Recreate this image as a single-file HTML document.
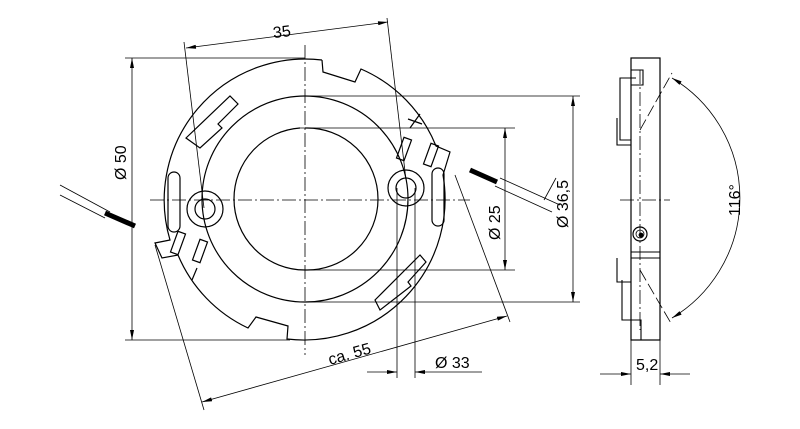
<!DOCTYPE html>
<html><head><meta charset="utf-8"><style>body{margin:0;background:#fff}svg{display:block}text{font-family:"Liberation Sans",sans-serif;fill:#000}</style></head>
<body>
<svg width="800" height="429" viewBox="0 0 800 429" xmlns="http://www.w3.org/2000/svg">
<defs><marker id="a" viewBox="0 0 10 4" refX="10" refY="2" markerWidth="12" markerHeight="4" orient="auto-start-reverse" markerUnits="userSpaceOnUse"><path d="M0,0L10,2L0,4z" fill="#000"/></marker></defs>
<g fill="none" stroke="#000" stroke-width="1.2">
<!-- outer ring with notches -->
<path d="M322,60 L323,72 L355,82 L361,69 A141,141 0 0 1 436,146 L450,152 L443,175 A141,141 0 0 1 287,339 L288,326 L256,317 L248,328 A141,141 0 0 1 178,255 L162,258 L155,243 L170,240 A141,141 0 0 1 322,60"/>
<circle cx="305" cy="199" r="103"/>
<path d="M300,128 A71,71 0 0 0 234,199 A71,71 0 0 0 305,270 A71,71 0 0 0 378,199 A71,71 0 0 0 305,128"/>
<circle cx="205" cy="209" r="18"/><circle cx="205" cy="209" r="10"/>
<circle cx="406" cy="188" r="18"/><circle cx="406" cy="188" r="10"/>
<!-- slots -->
<rect x="168" y="172" width="12" height="60" rx="6"/>
<rect x="432" y="168" width="12" height="58" rx="6"/>
<path d="M186,138 L230,96 L238,104 L218,124 L222,128 L200,148z"/>
<path d="M375,300 L420,255 L426,262 L408,282 L411,286 L380,310z"/>
<rect x="400" y="138" width="8" height="22" transform="rotate(20 404 149)"/>
<rect x="427" y="144" width="8" height="22" transform="rotate(20 431 155)"/>
<rect x="174" y="232" width="8" height="22" transform="rotate(20 178 243)"/>
<rect x="196" y="240" width="8" height="22" transform="rotate(20 200 251)"/>
<path d="M197,268 L192,280"/>
</g>
<!-- centre lines -->
<g stroke="#000" stroke-width="0.8" fill="none" stroke-dasharray="14,3,2,3">
<line x1="150" y1="200" x2="470" y2="200"/><line x1="305" y1="45" x2="305" y2="355"/>
<line x1="620" y1="200" x2="670" y2="200"/><line x1="640" y1="70" x2="640" y2="330"/>
</g>
<!-- dimension lines -->
<g stroke="#000" stroke-width="0.8" fill="none">
<line x1="184" y1="42" x2="204" y2="208"/><line x1="387" y1="18" x2="406" y2="180"/>
<line x1="186" y1="48" x2="388" y2="22" marker-start="url(#a)" marker-end="url(#a)"/>
<line x1="125" y1="58" x2="305" y2="58"/><line x1="125" y1="340" x2="290" y2="340"/>
<line x1="132" y1="58" x2="132" y2="340" marker-start="url(#a)" marker-end="url(#a)"/>
<line x1="300" y1="128" x2="515" y2="128"/><line x1="305" y1="270" x2="515" y2="270"/>
<line x1="505" y1="128" x2="505" y2="270" marker-start="url(#a)" marker-end="url(#a)"/>
<line x1="305" y1="96" x2="580" y2="96"/><line x1="305" y1="302" x2="580" y2="302"/>
<line x1="573" y1="96" x2="573" y2="302" marker-start="url(#a)" marker-end="url(#a)"/>
<line x1="155" y1="245" x2="204" y2="410"/><line x1="455" y1="175" x2="510" y2="322"/>
<line x1="202" y1="402" x2="507" y2="316" marker-start="url(#a)" marker-end="url(#a)"/>
<line x1="397" y1="188" x2="397" y2="378"/><line x1="415" y1="188" x2="415" y2="378"/>
<line x1="367" y1="372" x2="397" y2="372" marker-end="url(#a)"/><line x1="482" y1="372" x2="415" y2="372" marker-end="url(#a)"/>
<line x1="60" y1="185" x2="110" y2="212"/><line x1="60" y1="195" x2="105" y2="218"/>
<line x1="500" y1="178" x2="560" y2="205"/><line x1="495" y1="186" x2="552" y2="212"/>
<line x1="544" y1="200" x2="556" y2="178"/>
<!-- side view -->
<rect x="631" y="58" width="29" height="282" stroke-width="1.2"/>
<path d="M631,70 L643,70 L643,85 L631,85 M636,78 L620,78 L620,140 L631,140 M617,118 L617,145 L631,145" stroke-width="1.1"/>
<path d="M631,252 L660,252 M631,258 L660,258 M617,258 L617,282 L631,282 M622,280 L622,320 L641,320 L641,340" stroke-width="1.1"/>
<circle cx="640" cy="234" r="7" stroke-width="1.2"/><circle cx="640" cy="234" r="4"/><circle cx="641" cy="235" r="2" fill="#000"/>
<line x1="631" y1="340" x2="631" y2="385"/><line x1="660" y1="340" x2="660" y2="385"/>
<line x1="600" y1="374" x2="631" y2="374" marker-end="url(#a)"/><line x1="690" y1="374" x2="660" y2="374" marker-end="url(#a)"/>
<line x1="640" y1="130" x2="672" y2="73" stroke-dasharray="12,4"/><line x1="640" y1="270" x2="672" y2="325" stroke-dasharray="12,4"/>
<path d="M672,78 A140,140 0 0 1 672,318" marker-start="url(#a)" marker-end="url(#a)"/>
</g>
<line x1="105" y1="213" x2="135" y2="226" stroke="#000" stroke-width="5"/>
<line x1="470" y1="170" x2="497" y2="182" stroke="#000" stroke-width="5"/>
<path d="M410,128 L420,114 M408,119 L422,124" stroke="#000" stroke-width="1.2"/>
<g font-size="16">
<text x="273" y="37" transform="rotate(-7 283 32)">35</text>
<text transform="translate(126,180) rotate(-90)">Ø 50</text>
<text transform="translate(500,240) rotate(-90)">Ø 25</text>
<text transform="translate(568,228) rotate(-90)">Ø 36,5</text>
<text transform="translate(330,365) rotate(-16)">ca. 55</text>
<text x="435" y="368">Ø 33</text>
<text x="636" y="370">5,2</text>
<text transform="translate(740,216) rotate(-90)">116°</text>
</g>
</svg>
</body></html>
